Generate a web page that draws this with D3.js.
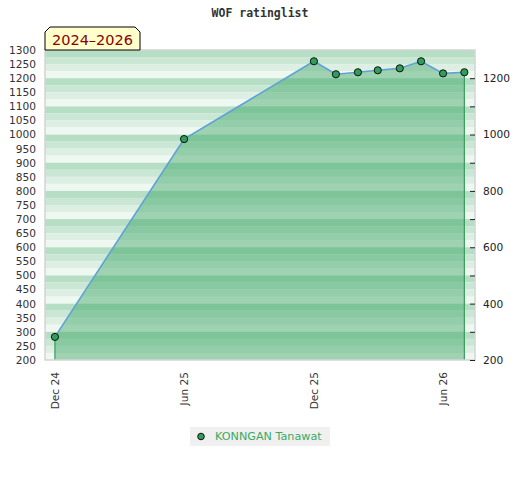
<!DOCTYPE html>
<html><head><meta charset="utf-8">
<script src="https://cdn.jsdelivr.net/npm/d3@7/dist/d3.min.js"></script>
<style>body{margin:0;background:#fff;} svg{display:block;}</style>
</head><body>
<svg id="chart" width="520" height="480"></svg>
<script>
const title = "WOF ratinglist";
const periodLabel = "2024–2026";
const playerName = "KONNGAN Tanawat";
const dates = ["2024-12-01","2025-06-01","2025-12-01","2026-01-01","2026-02-01","2026-03-01","2026-04-01","2026-05-01","2026-06-01","2026-07-01"];
const ratings = [282, 984, 1260, 1214, 1221, 1228, 1235, 1260, 1217, 1221];
const xTickDates = ["2024-12-01","2025-06-01","2025-12-01","2026-06-01"];
const leftTicks = d3.range(200, 1301, 50);
const rightTicks = d3.range(200, 1201, 100);
const rightLabels = [200, 400, 600, 800, 1000, 1200];

const parse = d3.utcParse("%Y-%m-%d");
const data = dates.map((d,i)=>({date: parse(d), value: ratings[i]}));

const svg = d3.select("#chart");
const L = 45, R = 475, T = 50, B = 360;
const x = d3.scaleUtc().domain([parse("2024-11-17"), parse("2026-07-16")]).range([L, R]);
const y = d3.scaleLinear().domain([200, 1300]).range([B, T]);

// title
svg.append("text").attr("x", 260).attr("y", 17).attr("text-anchor","middle")
  .style("font-family","DejaVu Sans Mono, monospace").style("font-weight","bold")
  .style("font-size","11.5px").attr("fill","#333").text(title);

// stripes
const stripeColors = ["#b5dec5", "#c9e7d4", "#ddefe3", "#eff7f1"];
const bands = d3.range(1300, 200, -25);
svg.append("g").selectAll("rect").data(bands).join("rect")
  .attr("x", L).attr("width", R - L)
  .attr("y", d => y(d)).attr("height", d => y(d - 25) - y(d))
  .attr("fill", (d,i) => stripeColors[i % 4]);

// area
const area = d3.area().x(d => x(d.date)).y0(y(200)).y1(d => y(d.value));
svg.append("path").datum(data).attr("d", area).attr("fill", "rgba(60,165,100,0.45)");
// side lines
const first = data[0], last = data[data.length-1];
[first, last].forEach(d => {
  svg.append("line").attr("x1", x(d.date)).attr("x2", x(d.date))
    .attr("y1", y(d.value)).attr("y2", y(200))
    .attr("stroke", "#3a9a5c").attr("stroke-width", 1.2);
});
// top line
const line = d3.line().x(d => x(d.date)).y(d => y(d.value));
svg.append("path").datum(data).attr("d", line).attr("fill","none")
  .attr("stroke", "#5ea2d6").attr("stroke-width", 1.6);

// border
svg.append("rect").attr("x", L).attr("y", T).attr("width", R-L).attr("height", B-T)
  .attr("fill","none").attr("stroke","#d4d4d4").attr("stroke-width",1.5);

// points
svg.append("g").selectAll("circle").data(data).join("circle")
  .attr("cx", d => x(d.date)).attr("cy", d => y(d.value)).attr("r", 3.6)
  .attr("fill", "#2e9e5b").attr("stroke", "#111").attr("stroke-width", 1);

// left axis
const axL = svg.append("g").attr("transform", `translate(${L},0)`)
  .call(d3.axisLeft(y).tickValues(leftTicks).tickSize(0).tickPadding(9).tickFormat(d3.format("d")));
axL.select(".domain").remove();
axL.selectAll("text").style("font-family","DejaVu Sans, sans-serif").style("font-size","10.6px").attr("fill","#333");

// right axis
const axR = svg.append("g").attr("transform", `translate(${R},0)`)
  .call(d3.axisRight(y).tickValues(rightTicks).tickSizeInner(-5).tickSizeOuter(0).tickPadding(8)
    .tickFormat(d => rightLabels.includes(d) ? d : ""));
axR.select(".domain").remove();
axR.selectAll("line").attr("stroke","#222");
axR.selectAll("text").style("font-family","DejaVu Sans, sans-serif").style("font-size","10.6px").attr("fill","#222");

// x axis
const axX = svg.append("g").attr("transform", `translate(0,${B})`)
  .call(d3.axisBottom(x).tickValues(xTickDates.map(parse)).tickSize(0).tickFormat(d3.utcFormat("%b %y")));
axX.select(".domain").remove();
axX.selectAll("text")
  .attr("transform", "translate(0,12) rotate(-90)")
  .attr("x", 0).attr("y", 0).attr("dy", "0.35em")
  .attr("text-anchor", "end")
  .style("font-family","DejaVu Sans, sans-serif").style("font-size","10.6px").attr("fill","#333");

// period label box
const bx0 = 45, bx1 = 140, by0 = 27, by1 = 50, bev = 5;
svg.append("path")
  .attr("d", `M${bx0},${by1} L${bx0},${by0+bev} L${bx0+bev},${by0} L${bx1-bev},${by0} L${bx1},${by0+bev} L${bx1},${by1} Z`)
  .attr("fill", "#ffffcc").attr("stroke", "#000").attr("stroke-width", 1);
svg.append("text").attr("x", (bx0+bx1)/2).attr("y", 40).attr("dy","0.35em").attr("text-anchor","middle")
  .style("font-family","DejaVu Sans, sans-serif").style("font-size","14.5px").attr("fill","#8b0000").text(periodLabel);

// legend
svg.append("rect").attr("x", 190).attr("y", 427).attr("width", 140).attr("height", 19).attr("fill", "#f0f0f0");
svg.append("circle").attr("cx", 201).attr("cy", 436.5).attr("r", 3.3).attr("fill","#2e9e5b").attr("stroke","#111");
svg.append("text").attr("x", 215).attr("y", 436.5).attr("dy","0.35em")
  .style("font-family","DejaVu Sans, sans-serif").style("font-size","11.2px").attr("fill","#3aaa62").text(playerName);
</script>
</body></html>
